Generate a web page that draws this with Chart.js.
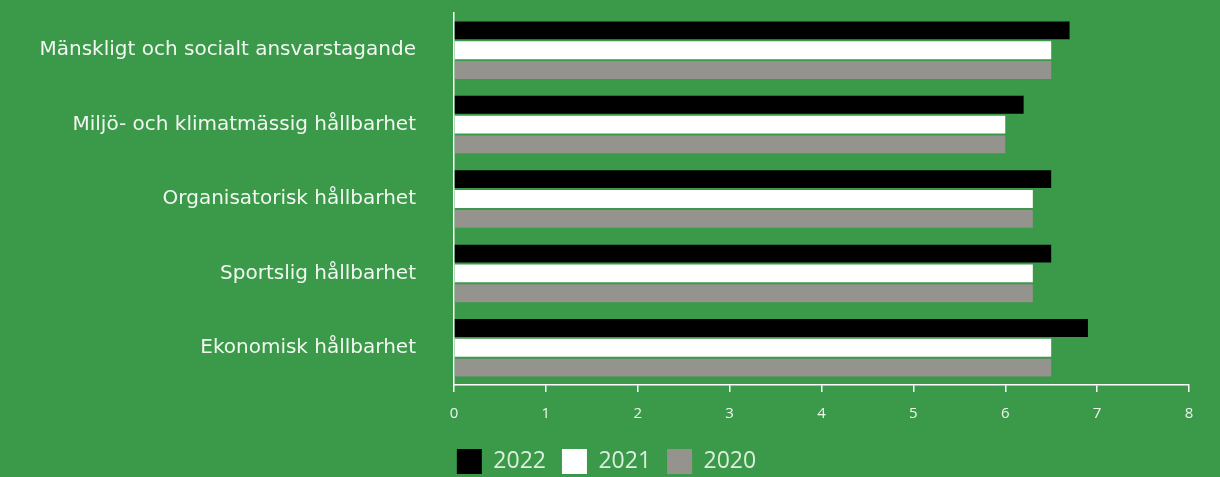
<!DOCTYPE html>
<html>
<head>
<meta charset="utf-8">
<script src="https://cdn.jsdelivr.net/npm/chart.js@4"></script>
<style>
  html, body { margin: 0; padding: 0; background: #3b994a; }
  #wrap { width: 1220px; height: 477px; }
</style>
</head>
<body>
<div id="wrap"><canvas id="graph"></canvas></div>
<script>
// catégories et séries
var categories = [
  'Mänskligt och socialt ansvarstagande',
  'Miljö- och klimatmässig hållbarhet',
  'Organisatorisk hållbarhet',
  'Sportslig hållbarhet',
  'Ekonomisk hållbarhet'
];
var serie2022 = [6.7, 6.2, 6.5, 6.5, 6.9];
var serie2021 = [6.5, 6.0, 6.3, 6.3, 6.5];
var serie2020 = [6.5, 6.0, 6.3, 6.3, 6.5];
var annees = ['2022', '2021', '2020'];
var couleurs = ['#000000', '#ffffff', '#94938e'];

var series = [serie2022, serie2021, serie2020];
var graphiques = [];
for (var i = 0; i < series.length; i++) {
  graphiques.push({
    label: annees[i],
    data: series[i],
    backgroundColor: couleurs[i],
    borderWidth: 0,
    categoryPercentage: 0.8,
    barPercentage: 0.9
  });
}

const ctxt = document.getElementById('graph');
const graph = new Chart(ctxt, {
  type: 'bar',
  data: { labels: categories, datasets: graphiques },
  options: {
    indexAxis: 'y',
    responsive: true,
    maintainAspectRatio: false,
    animation: false,
    layout: { padding: { top: 13, right: 31, bottom: -7, left: 24 } },
    plugins: {
      tooltip: { enabled: false },
      legend: {
        position: 'bottom',
        align: 'center',
        labels: {
          boxWidth: 25,
          boxHeight: 25,
          padding: 16,
          color: '#dcefdc',
          font: { family: "'Open Sans'", size: 23 },
          useBorderRadius: false
        }
      }
    },
    scales: {
      x: {
        min: 0,
        max: 8,
        ticks: { stepSize: 1, color: '#eef6ee', font: { family: "'Open Sans'", size: 15 }, padding: 13 },
        grid: { display: true, drawOnChartArea: false, drawTicks: true, tickLength: 7, color: '#ffffff', lineWidth: 1.5 },
        border: { display: true, color: '#ffffff', width: 1.5 },
        afterFit: function(scale) { scale.height = 48; }
      },
      y: {
        ticks: { color: '#f2f7f2', font: { family: "'DejaVu Sans'", size: 20 }, padding: 0 },
        grid: { display: true, drawOnChartArea: false, drawTicks: true, tickLength: 38, color: 'rgba(0,0,0,0)' },
        border: { display: true, color: '#ffffff', width: 1.5 },
        afterFit: function(scale) { scale.width = 430; }
      }
    }
  }
});
</script>
</body>
</html>
